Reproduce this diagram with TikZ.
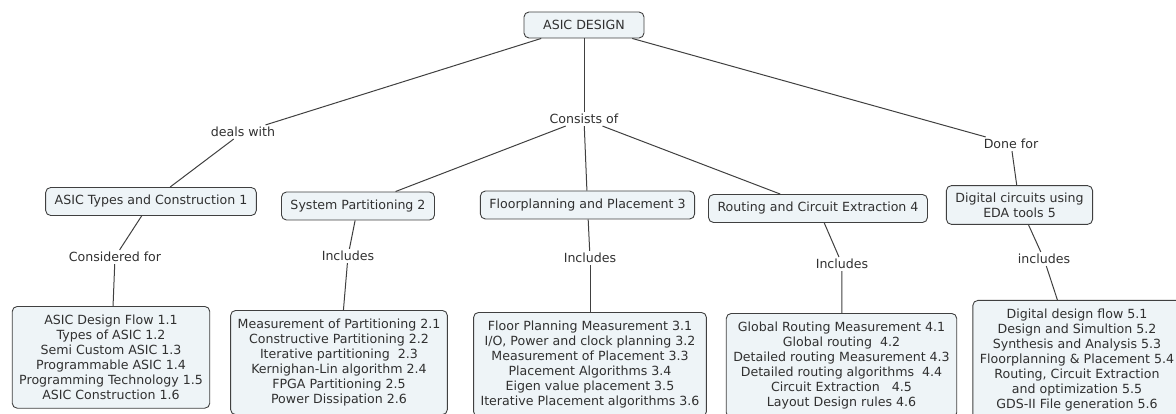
\documentclass[tikz,border=0pt]{standalone}
\usepackage{fontspec}
\setmainfont{DejaVu Sans}
\usepackage{xcolor}
\definecolor{cfill}{HTML}{EEF4F7}
\definecolor{cline}{HTML}{404040}
\definecolor{ctext}{HTML}{303030}

\begin{document}
\begin{tikzpicture}[x=1pt,y=-1pt,concept/.style={draw=cline,line width=0.9pt,rounded corners=5pt,
fill=cfill,align=center,text=ctext,font=\fontsize{12.6}{15}\selectfont,inner xsep=9pt,inner ysep=7pt,minimum height=28pt},
list/.style={concept,anchor=north,inner xsep=7pt,inner ysep=8.5pt},
link/.style={text=ctext,font=\fontsize{12.6}{15}\selectfont,inner sep=2pt},conn/.style={draw=cline,line width=1pt}]
\useasboundingbox (0,0) rectangle (1176,414);
\node[concept,minimum width=120pt,minimum height=26pt] (root) at (584,25) {ASIC DESIGN};
\node[link] (deals) at (243,132) {deals with};
\node[link] (consists) at (584,119) {Consists of};
\node[link] (donefor) at (1011,144) {Done for};
\node[concept] (types) at (151,201.5) {ASIC Types and Construction 1};
\node[concept] (part) at (358,206) {System Partitioning 2};
\node[concept] (floor) at (587.5,205) {Floorplanning and Placement 3};
\node[concept] (route) at (818,208.5) {Routing and Circuit Extraction 4};
\node[concept] (eda) at (1019.5,205) {Digital circuits using\\EDA tools 5};
\node[link] (consid) at (115,257) {Considered for};
\node[link] (incpart) at (348,256) {Includes};
\node[link] (incfloor) at (590,258) {Includes};
\node[link] (incroute) at (842,264) {Includes};
\node[link] (inceda) at (1044,259) {includes};
\node[list] (typeslist) at (111,306) {ASIC Design Flow 1.1\\Types of ASIC 1.2\\Semi Custom ASIC 1.3\\Programmable ASIC 1.4\\Programming Technology 1.5\\ASIC Construction 1.6};
\node[list] (partlist) at (339,310) {Measurement of Partitioning 2.1\\Constructive Partitioning 2.2\\Iterative partitioning~~2.3\\Kernighan-Lin algorithm 2.4\\FPGA Partitioning 2.5\\Power Dissipation 2.6};
\node[list] (floorlist) at (590,312) {Floor Planning Measurement 3.1\\I/O, Power and clock planning 3.2\\Measurement of Placement 3.3\\Placement Algorithms 3.4\\Eigen value placement 3.5\\Iterative Placement algorithms 3.6};
\node[list] (routelist) at (841.5,313) {Global Routing Measurement 4.1\\Global routing~~4.2\\Detailed routing Measurement 4.3\\Detailed routing algorithms~~4.4\\Circuit Extraction~~~4.5\\Layout Design rules 4.6};
\node[list] (edalist) at (1077,300) {Digital design flow 5.1\\Design and Simultion 5.2\\Synthesis and Analysis 5.3\\Floorplanning \& Placement 5.4\\Routing, Circuit Extraction\\and optimization 5.5\\GDS-II File generation 5.6};
\draw[conn] (root)--(deals);\draw[conn] (deals)--(types);
\draw[conn] (root)--(consists);\draw[conn] (consists)--(part);
\draw[conn] (consists)--(floor);\draw[conn] (consists)--(route);
\draw[conn] (root)--(donefor);\draw[conn] (donefor)--(eda);
\draw[conn] (types)--(consid);\draw[conn] (consid)--(typeslist);
\draw[conn] (part)--(incpart);\draw[conn] (incpart)--(partlist);
\draw[conn] (floor)--(incfloor);\draw[conn] (incfloor)--(floorlist);
\draw[conn] (route)--(incroute);\draw[conn] (incroute)--(routelist);
\draw[conn] (eda)--(inceda);\draw[conn] (inceda)--(edalist);
\end{tikzpicture}
\end{document}
